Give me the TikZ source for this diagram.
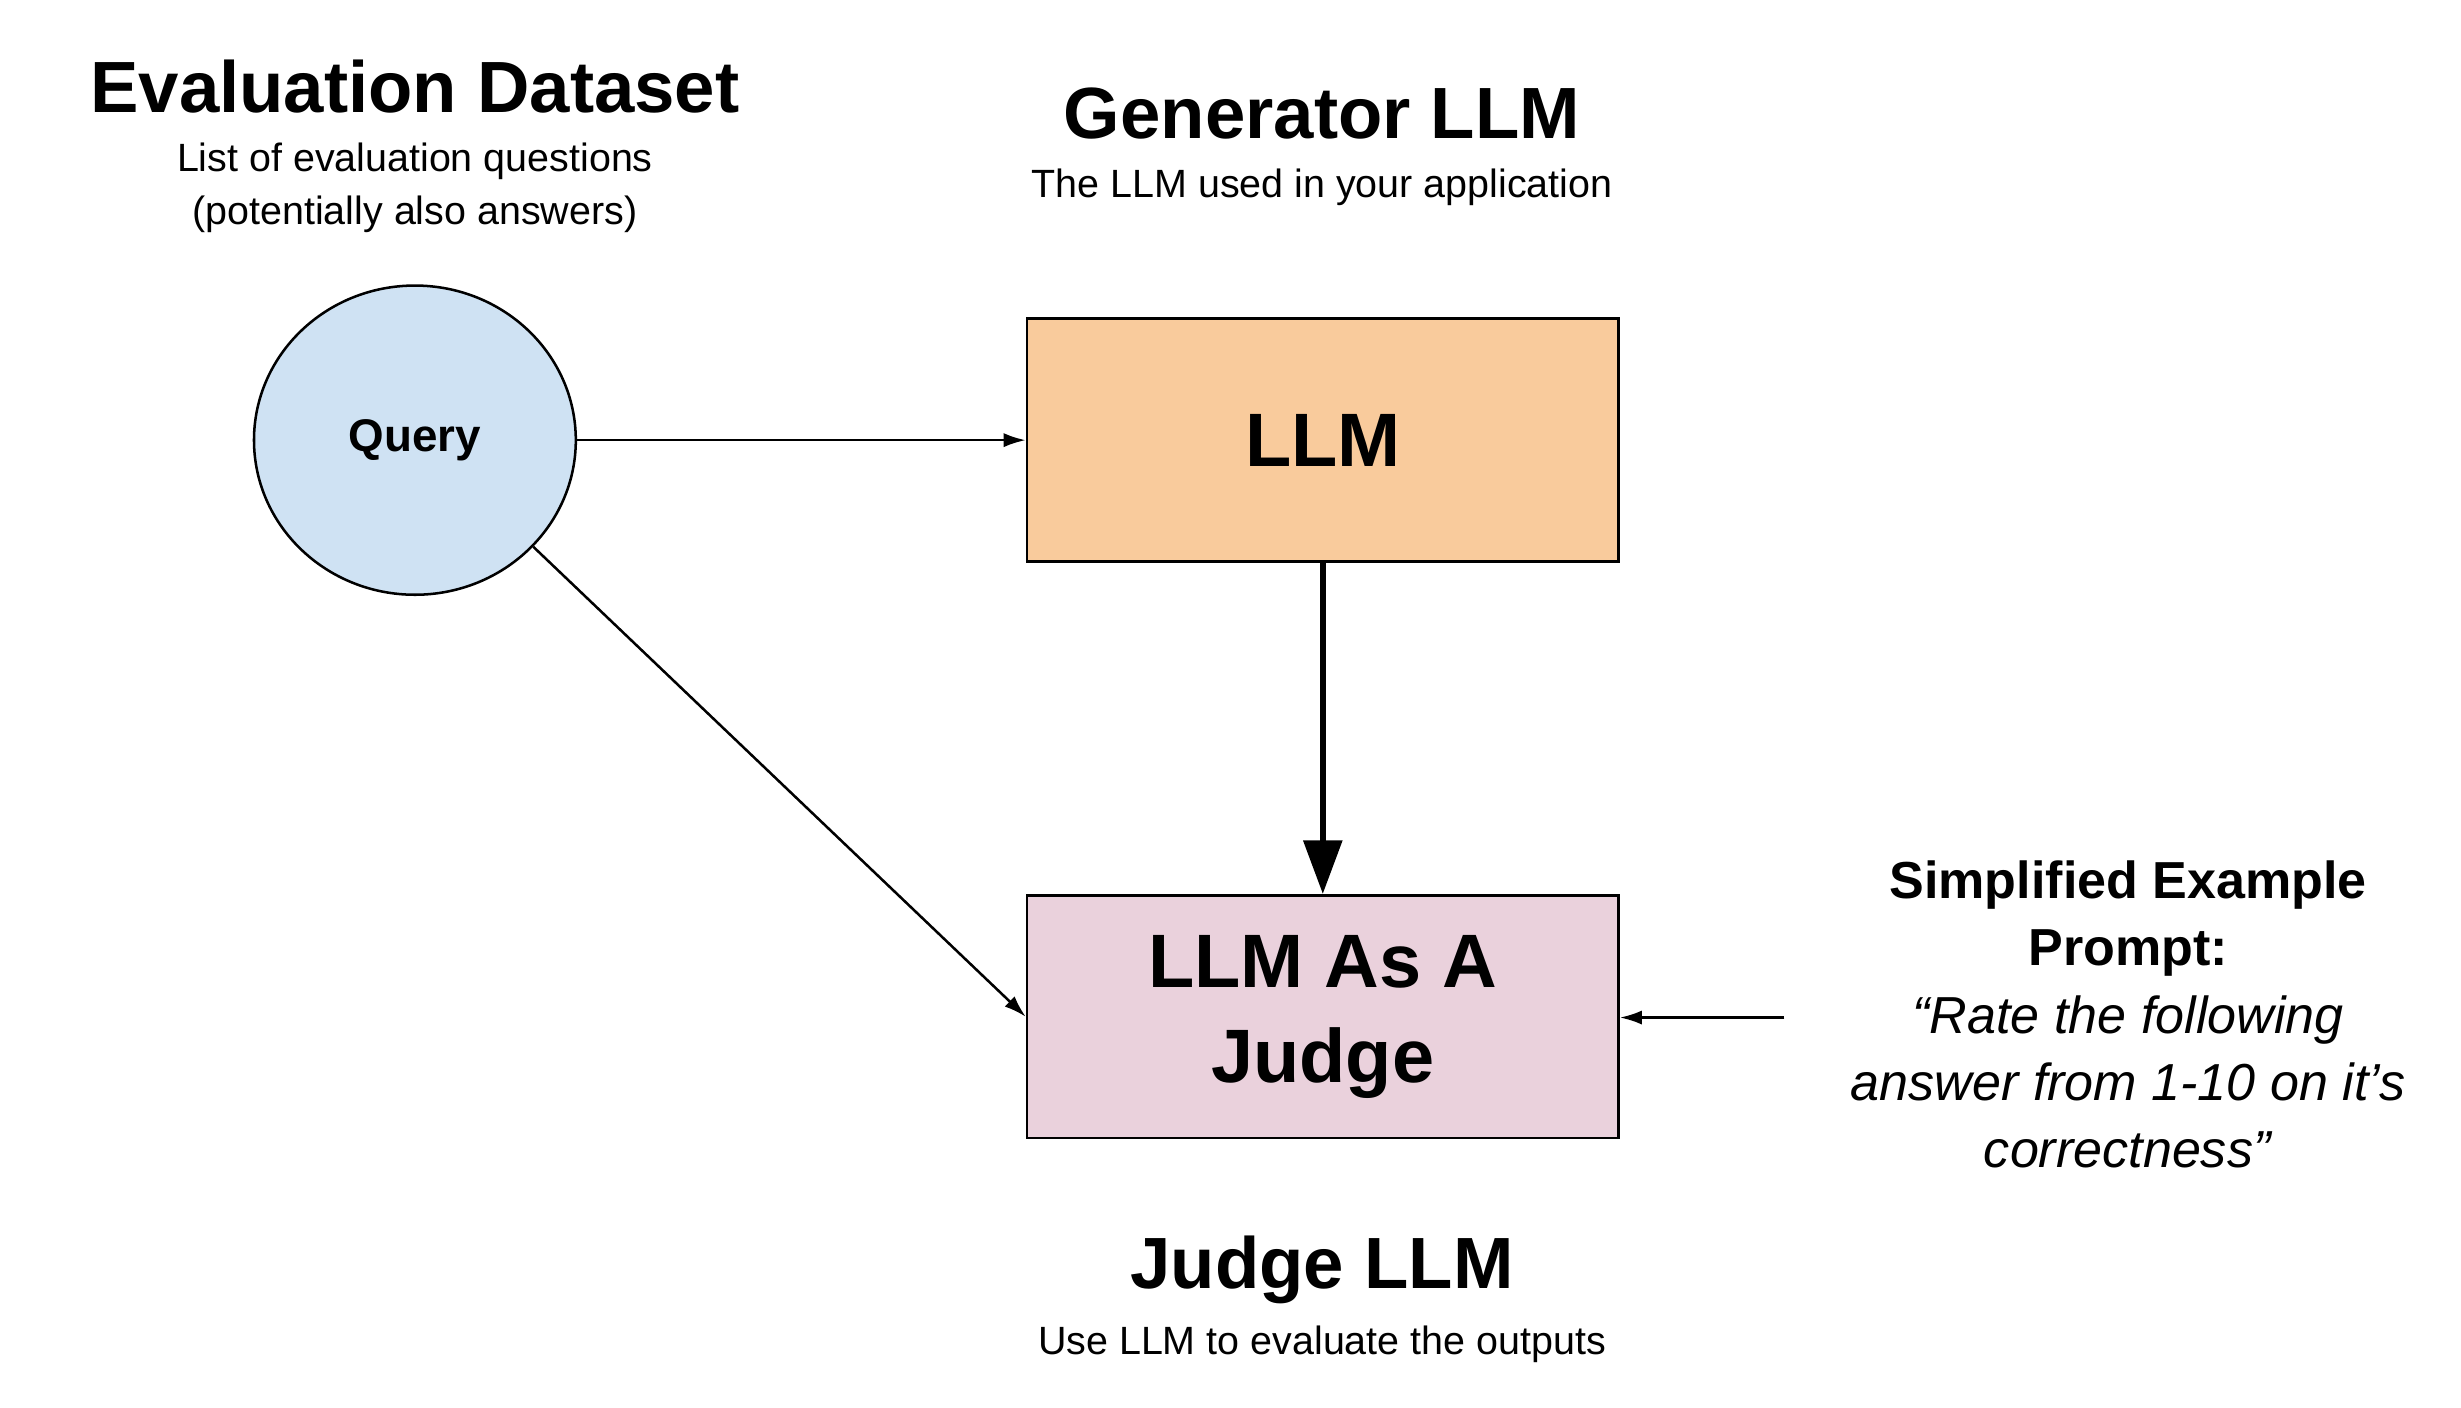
\documentclass[tikz,border=0pt]{standalone}
\usepackage{fontspec}
\setmainfont{Liberation Sans}
\usetikzlibrary{arrows.meta,shapes.geometric}
\definecolor{qblue}{HTML}{CFE2F3}
\definecolor{lorange}{HTML}{F9CB9C}
\definecolor{jpink}{HTML}{EAD1DC}
\begin{document}
\begin{tikzpicture}[x=1pt,y=-1pt,
  title/.style={font=\fontsize{46}{52}\selectfont\bfseries,anchor=center},
  sub/.style={font=\fontsize{25}{34}\selectfont,align=center,anchor=center},
  box/.style={draw,line width=1.6pt,minimum width=375pt,minimum height=154pt,align=center,font=\fontsize{48}{60}\selectfont\bfseries},
  thin/.style={line width=1.6pt,-{Latex[length=14pt,width=9pt]}}]
\useasboundingbox (0,0) rectangle (1560,892);
\node[title] (t1) at (263,55) {Evaluation Dataset};
\node[sub] (s1) at (263,119) {List of evaluation questions\\(potentially also answers)};
\node[title] (t2) at (838,72) {Generator LLM};
\node[sub] (s2) at (838,119) {The LLM used in your application};
\node[title] (t3) at (838,805) {Judge LLM};
\node[sub] (s3) at (838,852) {Use LLM to evaluate the outputs};
\node[ellipse,draw,line width=1.6pt,fill=qblue,minimum width=204pt,minimum height=196pt,font=\fontsize{29}{34}\selectfont\bfseries] (q) at (263,279) {Query};
\node[box,fill=lorange] (llm) at (838.5,279) {LLM};
\node[box,fill=jpink] (j) at (838.5,644.5) {LLM As A\\Judge};
\node[align=center,font=\fontsize{33}{42.5}\selectfont] (p) at (1349,643) {\textbf{Simplified Example}\\\textbf{Prompt:}\\\textit{“Rate the following}\\\textit{answer from 1-10 on it’s}\\\textit{correctness”}};
\coordinate (pe) at (1131,645);
\draw[thin] (q.east) -- (llm.west);
\draw[thin] (q.-42) -- (j.west);
\draw[line width=4pt,-{Triangle[length=34pt,width=24pt]}] (llm.south) -- (j.north);
\draw[thin] (pe) -- (pe-|j.east);
\end{tikzpicture}
\end{document}
